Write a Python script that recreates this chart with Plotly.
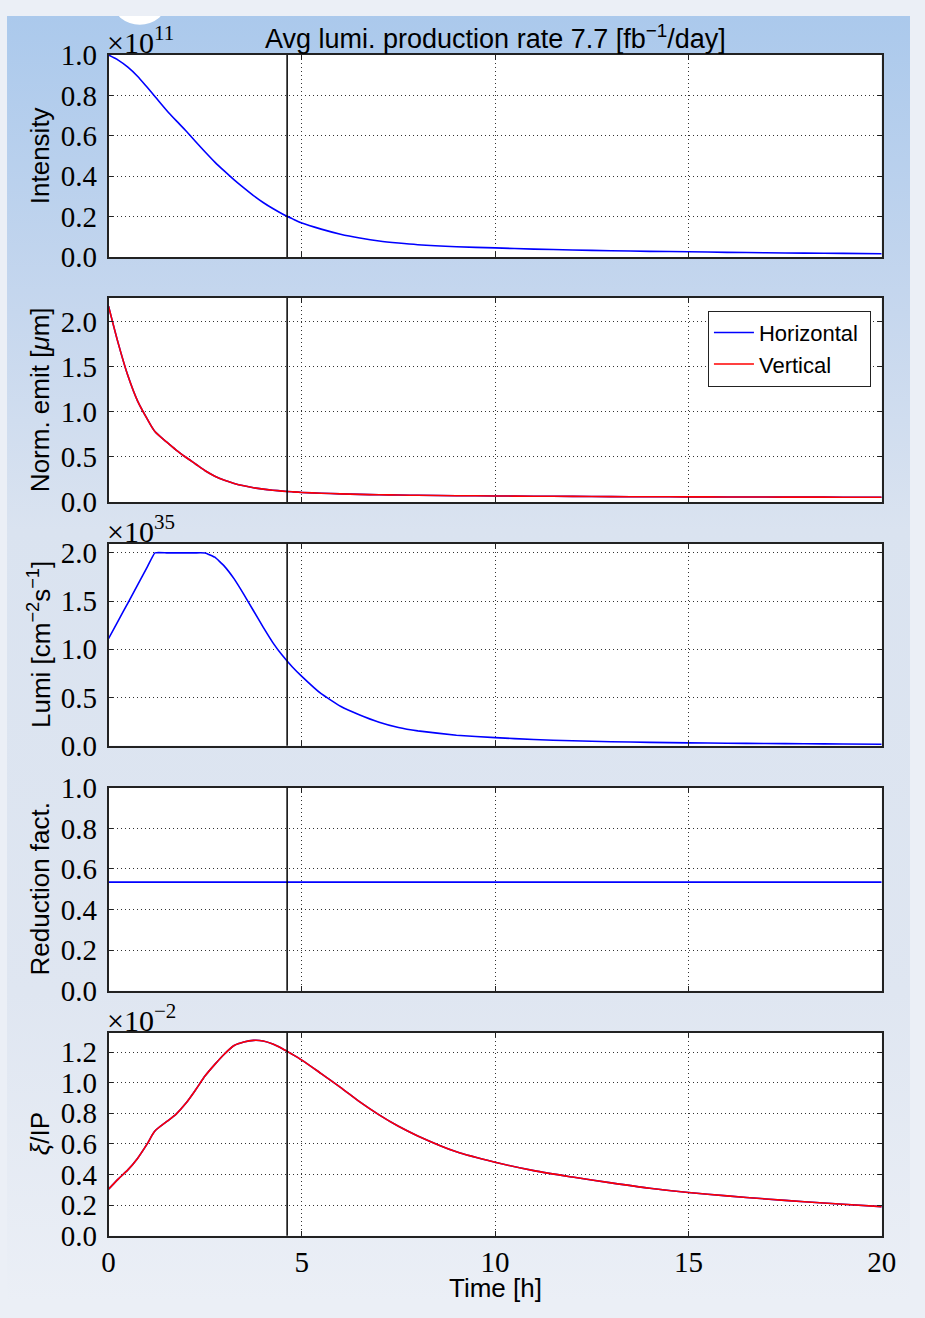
import base64
import re
import plotly.graph_objects as go

# ---------------- data ----------------
time_h = [0, 0.25, 0.5, 0.75, 1.0, 1.2, 1.5, 1.75, 2.0, 2.25, 2.5, 2.75, 3.0, 3.25,
          3.5, 3.75, 4.0, 4.25, 4.5, 4.75, 5.0, 5.5, 6.0, 6.5, 7.0, 7.5, 8.0, 9.0,
          10.0, 11.0, 12.0, 13.0, 14.0, 15.0, 16.0, 17.0, 18.0, 19.0, 20.0]

# Intensity [x1e11]
intensity = [1.0, 0.975, 0.94, 0.895, 0.84, 0.795, 0.727, 0.675, 0.625, 0.572, 0.52,
             0.47, 0.425, 0.382, 0.342, 0.304, 0.27, 0.24, 0.213, 0.19, 0.168, 0.138,
             0.113, 0.094, 0.079, 0.069, 0.061, 0.051, 0.045, 0.039, 0.035, 0.031,
             0.028, 0.026, 0.023, 0.021, 0.019, 0.018, 0.016]

# Normalised emittance [um]
emit_h = [2.17, 1.76, 1.40, 1.12, 0.92, 0.78, 0.665, 0.575, 0.495, 0.42, 0.345, 0.285,
          0.24, 0.205, 0.178, 0.157, 0.142, 0.13, 0.12, 0.112, 0.105, 0.096, 0.089,
          0.083, 0.079, 0.076, 0.073, 0.069, 0.066, 0.063, 0.061, 0.059, 0.057, 0.056,
          0.055, 0.054, 0.053, 0.052, 0.052]
emit_v = list(emit_h)

# Luminosity [x1e35 cm^-2 s^-1]
lumi = [1.11, 1.295, 1.48, 1.666, 1.852, 2.0, 2.0, 2.0, 2.0, 2.0, 1.999, 1.955, 1.86,
        1.73, 1.57, 1.40, 1.23, 1.07, 0.935, 0.82, 0.72, 0.54, 0.41, 0.32, 0.245, 0.19,
        0.155, 0.11, 0.085, 0.065, 0.052, 0.043, 0.036, 0.031, 0.027, 0.024, 0.021,
        0.019, 0.017]

# Reduction factor
reduction = [0.535] * len(time_h)

# Beam-beam tune shift per IP [x1e-2]
xi_h = [0.304, 0.37, 0.43, 0.505, 0.60, 0.684, 0.745, 0.795, 0.865, 0.952, 1.045, 1.12,
        1.188, 1.243, 1.266, 1.277, 1.273, 1.253, 1.222, 1.186, 1.148, 1.06, 0.97, 0.875,
        0.79, 0.715, 0.652, 0.548, 0.48, 0.425, 0.383, 0.345, 0.31, 0.282, 0.26, 0.24,
        0.222, 0.205, 0.19]
xi_v = list(xi_h)

t_marker = 4.62  # optimal fill length [h]

x_ticks = [0, 5, 10, 15, 20]
title_text = "Avg lumi. production rate 7.7 [fb<sup>\u22121</sup>/day]"
y_titles = ["Intensity", "Norm. emit [<i>\u03bc</i>m]",
            "Lumi [cm<sup>\u22122</sup>s<sup>\u22121</sup>]", "Reduction fact.",
            "<i>\u03be</i>/IP"]
offset_texts = ["\u00d710<sup>11</sup>", None, "\u00d710<sup>35</sup>", None,
                "\u00d710<sup>\u22122</sup>"]
y_ranges = [[0, 1.0], [0, 2.26], [0, 2.093], [0, 1.0], [0, 1.327]]
y_dticks = [0.2, 0.5, 0.5, 0.2, 0.2]

# ---------------- layout geometry ----------------
W, H = 925, 1318
XL, XR = 104, 896
panels_px = [(40, 247), (289, 498), (541, 748), (791, 999), (1042, 1250)]

BLUE = "#0000ff"
RED = "#ff0000"
SERIF = "Liberation Serif"
SANS = "Liberation Sans"

fig = go.Figure()

def add(x, y, n, color, name=None, legend=False, smooth=0.8):
    fig.add_trace(go.Scatter(
        x=x, y=y, mode="lines", name=name, showlegend=legend,
        line=dict(color=color, width=1.6, shape="spline", smoothing=smooth),
        xaxis="x" if n == 1 else f"x{n}", yaxis="y" if n == 1 else f"y{n}"))

add(time_h, intensity, 1, BLUE)
add(time_h, emit_h, 2, BLUE, "Horizontal\u00a0", True)
add(time_h, emit_v, 2, RED, "Vertical", True)
add(time_h, lumi, 3, BLUE, smooth=0.3)
add(time_h, reduction, 4, BLUE)
add(time_h, xi_h, 5, BLUE)
add(time_h, xi_v, 5, RED)

axis_common = dict(
    showgrid=True, griddash="1px,3px", gridcolor="#333333", gridwidth=1,
    showline=True, linecolor="#222222", linewidth=1.5, mirror="allticks",
    ticks="inside", ticklen=5, tickcolor="#222222", tickwidth=1,
    zeroline=False,
    tickfont=dict(family=SERIF, size=29, color="black"),
)

layout = dict(
    width=W, height=H, autosize=False,
    margin=dict(l=0, r=0, t=0, b=0, pad=0),
    paper_bgcolor="rgba(0,0,0,0)",
    plot_bgcolor="white",
    showlegend=True,
    legend=dict(
        x=885 / W, xanchor="right", y=1 - 302 / H, yanchor="top",
        bgcolor="white", bordercolor="#222222", borderwidth=1,
        font=dict(family=SANS, size=22, color="black"),
        itemwidth=40, tracegroupgap=0,
    ),
)

annotations = []
shapes = []
for i, (top, bot) in enumerate(panels_px):
    n = i + 1
    xk = "xaxis" if n == 1 else f"xaxis{n}"
    yk = "yaxis" if n == 1 else f"yaxis{n}"
    xref = "x" if n == 1 else f"x{n}"
    yref = "y" if n == 1 else f"y{n}"
    xa = dict(axis_common, domain=[XL / W, XR / W], range=[0, 20],
              tickvals=x_ticks, anchor=yref, showticklabels=(n == 5))
    if n != 5:
        xa["matches"] = "x5"
    layout[xk] = xa
    ya = dict(axis_common, domain=[1 - bot / H, 1 - top / H], range=y_ranges[i],
              dtick=y_dticks[i], tick0=0, tickformat=".1f",
              anchor=xref, ticklabelstandoff=4)
    layout[yk] = ya
    # white plot area (drawn above the slide background image)
    shapes.append(dict(
        type="rect", xref=xref + " domain", yref=yref + " domain",
        x0=0, x1=1, y0=0, y1=1, fillcolor="white", line=dict(width=0),
        layer="below"))
    # y title
    annotations.append(dict(
        text=y_titles[i], xref="paper", yref="paper",
        x=34 / W, y=1 - (top + bot) / 2 / H, xanchor="center", yanchor="middle",
        textangle=-90, showarrow=False,
        font=dict(family=SANS, size=26, color="black")))
    # offset text
    if offset_texts[i]:
        annotations.append(dict(
            text=offset_texts[i], xref="paper", yref="paper",
            x=100 / W, y=1 - top / H, xanchor="left", yanchor="bottom",
            yshift=-6, showarrow=False,
            font=dict(family=SERIF, size=30, color="black")))
    # marker line
    shapes.append(dict(
        type="line", xref=xref, yref=yref + " domain",
        x0=t_marker, x1=t_marker, y0=0, y1=1,
        line=dict(color="black", width=1.5)))

annotations.append(dict(
    text=title_text, xref="paper", yref="paper",
    x=(XL + XR) / 2 / W, y=1 - 22 / H, xanchor="center", yanchor="middle",
    showarrow=False, font=dict(family=SANS, size=27, color="black")))
annotations.append(dict(
    text="Time [h]", xref="paper", yref="paper",
    x=(XL + XR) / 2 / W, y=1 - 1304 / H, xanchor="center", yanchor="middle",
    showarrow=False, font=dict(family=SANS, size=26, color="black")))

layout["annotations"] = annotations
layout["shapes"] = shapes

# slide-like gradient background
svg = (
    "<svg xmlns='http://www.w3.org/2000/svg' width='925' height='1318' "
    "viewBox='0 0 925 1318' preserveAspectRatio='none'>"
    "<defs><linearGradient id='g' x1='0' y1='0' x2='0' y2='1'>"
    "<stop offset='0' stop-color='#abc9ec'/>"
    "<stop offset='0.23' stop-color='#c6d7ee'/>"
    "<stop offset='0.40' stop-color='#dae3f0'/>"
    "<stop offset='0.76' stop-color='#dfe6f1'/>"
    "<stop offset='1' stop-color='#ebeff6'/>"
    "</linearGradient></defs>"
    "<rect x='0' y='0' width='925' height='1318' fill='url(#g)'/>"
    "<ellipse cx='136' cy='-14' rx='27' ry='23' fill='white'/>"
    "</svg>"
)
src = "data:image/svg+xml;base64," + base64.b64encode(svg.encode()).decode()
layout["images"] = [dict(source=src, xref="paper", yref="paper", x=0, y=1,
                         sizex=1, sizey=1, sizing="stretch", layer="below",
                         xanchor="left", yanchor="top")]

fig.update_layout(**layout)
fig.write_html("out.html")

# remove the default page margin so the figure fills the window exactly
with open("out.html", "r", encoding="utf-8") as f:
    html = f.read()
style = ("<style>html,body{margin:0 !important;padding:0 !important;"
         "overflow:hidden !important;background:#ebeff6;}</style>")
if "<head>" in html:
    html = html.replace("<head>", "<head>" + style, 1)
else:
    html = style + html
html = re.sub(r"<body[^>]*>", '<body style="margin:0;padding:0;">', html, count=1)
with open("out.html", "w", encoding="utf-8") as f:
    f.write(html)
